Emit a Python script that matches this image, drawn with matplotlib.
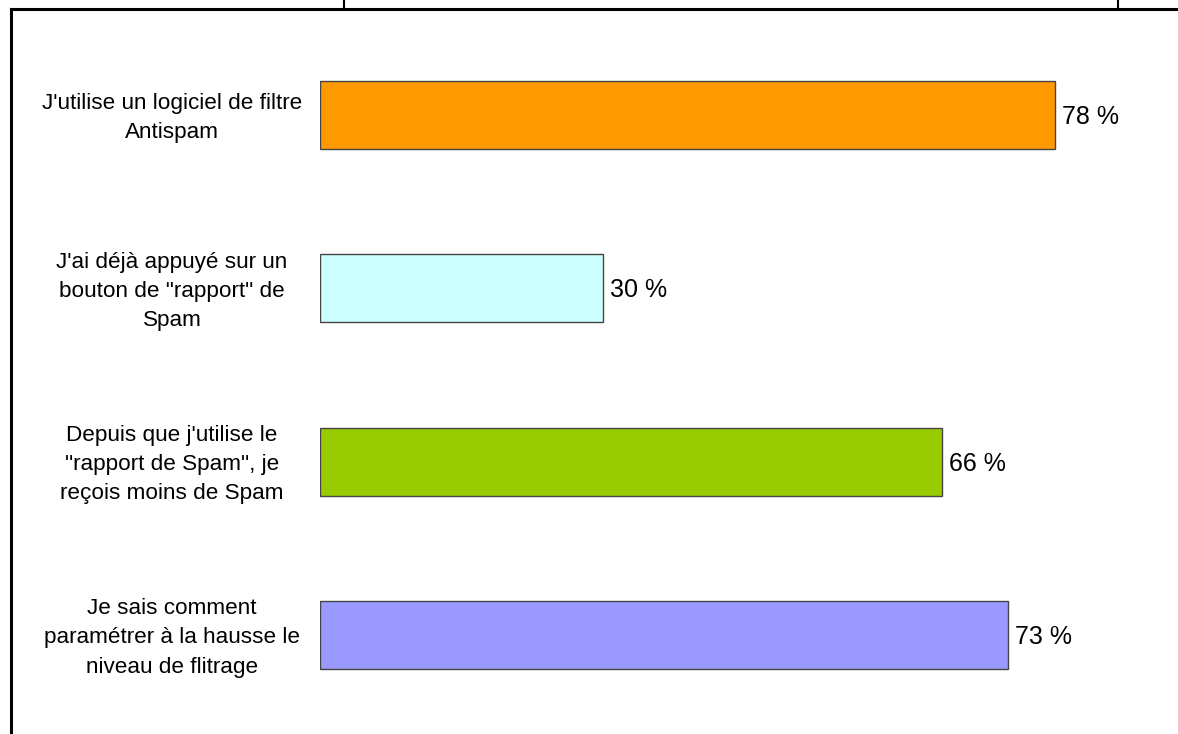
import matplotlib
matplotlib.use("Agg")
import matplotlib.pyplot as plt
from matplotlib.lines import Line2D

categories = [
    "J'utilise un logiciel de filtre\nAntispam",
    "J'ai déjà appuyé sur un\nbouton de \"rapport\" de\nSpam",
    "Depuis que j'utilise le\n\"rapport de Spam\", je\nreçois moins de Spam",
    "Je sais comment\nparamétrer à la hausse le\nniveau de flitrage",
]
values = [78, 30, 66, 73]
value_labels = ["78 %", "30 %", "66 %", "73 %"]
colors = ["#FF9900", "#CCFFFF", "#99CC00", "#9999FF"]

W, H = 1178, 734
fig = plt.figure(figsize=(W / 100, H / 100), dpi=100)
plt.rcParams['font.family'] = ['Liberation Sans', 'DejaVu Sans']

ax = fig.add_axes([320 / W, 0, (W - 320) / W, 1])
px_per_unit = (1055 - 320) / 78.0
ax.set_xlim(0, (W - 320) / px_per_unit)
spacing = 173.33
ax.set_ylim((H - 115) / spacing, -115 / spacing)
ax.axis("off")

ypos = list(range(len(categories)))
ax.barh(ypos, values, height=68 / spacing, color=colors,
        edgecolor="#444444", linewidth=1.0)

for y, v, lab in zip(ypos, values, value_labels):
    ax.text(v + 7 / px_per_unit, y + 2 / spacing, lab, va="center", ha="left",
            fontsize=18, color="black")

# category labels
for y, cat in zip(ypos, categories):
    yfig = 1 - (118 + y * spacing) / H
    fig.text(172 / W, yfig, cat, ha="center", va="center", fontsize=16.2,
             linespacing=1.52, color="black")

# frame lines
fig.add_artist(Line2D([11 / W, 1], [1 - 9 / H, 1 - 9 / H], color="black", lw=2.2))
fig.add_artist(Line2D([11 / W, 11 / W], [0, 1 - 9 / H], color="black", lw=2.2))
fig.add_artist(Line2D([344 / W, 344 / W], [1 - 9 / H, 1], color="black", lw=1.5))
fig.add_artist(Line2D([1118 / W, 1118 / W], [1 - 9 / H, 1], color="black", lw=1.5))

fig.savefig("out.png", dpi=100)
